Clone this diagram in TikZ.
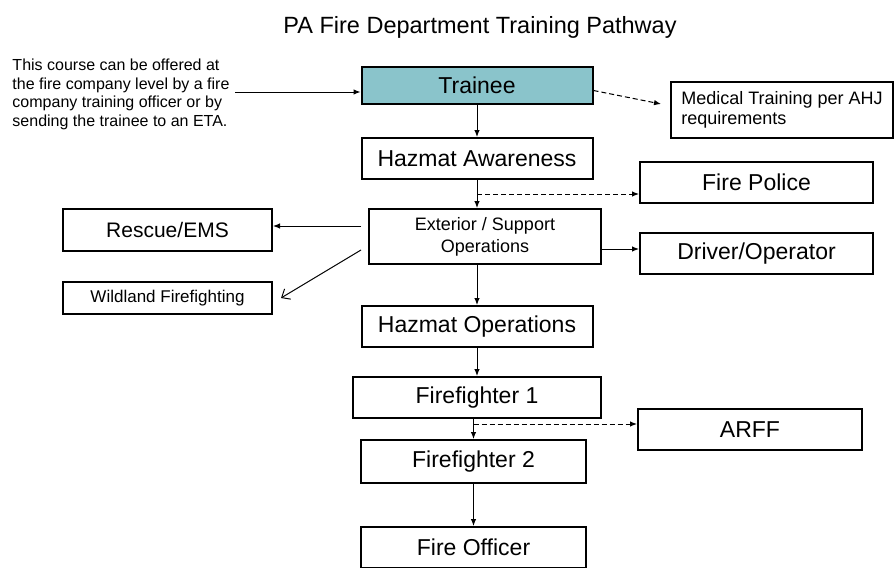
\documentclass[tikz,border=0pt]{standalone}
\usepackage{fontspec}
\setmainfont{Liberation Sans}
\usetikzlibrary{arrows.meta}
\definecolor{traineeteal}{HTML}{8AC4CB}
\tikzset{every picture/.style={line width=1pt}}

\begin{document}
\begin{tikzpicture}[x=1pt,y=-1pt,
        box/.style={draw, line width=2pt, inner sep=0pt, minimum height=41pt, align=center, font=\fontsize{23}{27}\selectfont},
        arr/.style={-{Latex[length=7pt,width=5.5pt]}},
        dasharr/.style={arr, dash pattern=on 5pt off 3pt},
        openarr/.style={-{Straight Barb[length=7pt,width=12pt]}}]
        \useasboundingbox (0,0) rectangle (895,568);
        \node[anchor=base, font=\fontsize{23.5}{28}\selectfont] (title) at (480,33) {PA Fire Department Training Pathway};
        \node[anchor=base west, align=left, inner sep=0pt, font=\fontsize{16}{18.5}\selectfont] (note) at (12,126)
            {This course can be offered at\\the fire company level by a fire\\company training officer or by\\sending the trainee to an ETA.};
        % main column
        \node[box, fill=traineeteal, minimum width=231pt, minimum height=37pt] (trainee) at (477,85.5) {Trainee};
        \node[box, minimum width=231pt] (hazaware) at (477,158.5) {Hazmat Awareness};
        \node[box, minimum width=232pt, minimum height=55pt, font=\fontsize{18}{22}\selectfont] (exterior) at (485,236.5) {Exterior / Support\\Operations};
        \node[box, minimum width=231pt] (hazops) at (477,326.5) {Hazmat Operations};
        \node[box, minimum width=248pt] (ffone) at (477,397.5) {Firefighter 1};
        \node[box, minimum width=225pt, minimum height=43pt] (fftwo) at (473.5,461.5) {Firefighter 2};
        \node[box, minimum width=225pt] (officer) at (473.5,547.5) {Fire Officer};
        % side boxes
        \node[box, minimum width=222pt, minimum height=56pt, align=left, font=\fontsize{18}{20.5}\selectfont] (medical) at (782,110) {Medical Training per AHJ\\requirements};
        \node[box, minimum width=233pt] (police) at (756.5,182.5) {Fire Police};
        \node[box, minimum width=233pt] (driver) at (756.5,253.5) {Driver/Operator};
        \node[box, minimum width=224pt] (arff) at (750,429.5) {ARFF};
        \node[box, minimum width=209pt, minimum height=42pt, font=\fontsize{21}{25}\selectfont] (rescue) at (167.5,230) {Rescue/EMS};
        \node[box, minimum width=209pt, minimum height=32pt, font=\fontsize{17}{20}\selectfont] (wildland) at (167.5,298) {Wildland Firefighting};
        \coordinate (noteend) at (235,92);
        \coordinate (policejoin) at (hazaware.south |- 0,194);
        \coordinate (arffjoin) at (fftwo.north |- 0,424);
        \coordinate (driverjoin) at ([yshift=-12.5pt]exterior.east);
        \coordinate (rescuejoin) at ([xshift=-7pt,yshift=10.5pt]exterior.west);
        \draw
            (noteend) edge[arr] (noteend -| trainee.west)
            (trainee) edge[arr] (hazaware)
            (hazaware.south) edge[arr] (hazaware.south |- exterior.north)
            (hazops.north |- exterior.south) edge[arr] (hazops.north)
            (hazops) edge[arr] (ffone)
            (fftwo.north |- ffone.south) edge[arr] (fftwo.north)
            (fftwo) edge[arr] (officer)
            (driverjoin) edge[arr] (driverjoin -| driver.west)
            (rescuejoin) edge[arr] (rescuejoin -| rescue.east)
            ([yshift=-5pt]trainee.east) edge[dasharr] ([xshift=-9pt,yshift=6pt]medical.west)
            (policejoin) edge[dasharr] (policejoin -| police.west)
            (arffjoin) edge[dasharr] (arffjoin -| arff.west)
            ([xshift=-7pt,yshift=-13.5pt]exterior.west) edge[openarr] ([xshift=8pt]wildland.east)
            ;
    \end{tikzpicture}
\end{document}
